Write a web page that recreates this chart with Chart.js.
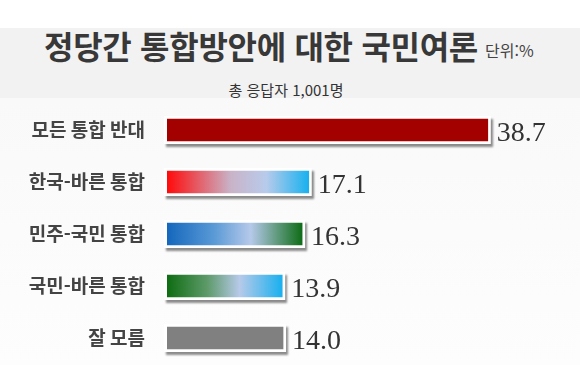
<!DOCTYPE html>
<html lang="ko">
<head>
<meta charset="utf-8">
<script src="https://cdn.jsdelivr.net/npm/chart.js@4.4.0/dist/chart.umd.min.js"></script>
<style>
  body { margin: 0; width: 580px; height: 365px; overflow: hidden; position: relative;
         background: linear-gradient(#ffffff 0px, #ffffff 28px, #f9f9f9 98px, #fdfdfd 365px);
         font-family: "Noto Sans CJK KR", sans-serif; }
  #band { position: absolute; left: 0; top: 28px; width: 580px; height: 70px; background: #f2f2f2; }
  #title { position: absolute; left: 0; width: 522px; top: 29px; text-align: center;
           font-size: 32px; line-height: 32px; font-weight: bold; color: #383838; letter-spacing: -0.3px; }
  #unit { position: absolute; left: 485px; top: 42px; font-size: 16px; line-height: 17px; color: #444; }
  #sub { position: absolute; left: 0; width: 572px; top: 82px; text-align: center;
         font-size: 15px; line-height: 15px; color: #333; }
  #myChart { position: absolute; left: 0; top: 0; }
</style>
</head>
<body>
<div id="band"></div>
<div id="title">정당간 통합방안에 대한 국민여론</div>
<div id="unit">단위:%</div>
<div id="sub">총 응답자 1,001명</div>
<canvas id="myChart" width="580" height="365"></canvas>
<script>
// categories and values (단위: %)
var categories = ['모든 통합 반대', '한국-바른 통합', '민주-국민 통합', '국민-바른 통합', '잘 모름'];
var values = [38.7, 17.1, 16.3, 13.9, 14.0];

// colour stops for each bar, left to right
var barColors = [
    [[0, '#a30000'], [1, '#a30000']],
    [[0, '#ff0a0a'], [0.45, '#c9b3c8'], [0.7, '#b8cbeb'], [1, '#19b1ef']],
    [[0, '#1467bd'], [0.35, '#5a9ad6'], [0.62, '#b6c9ea'], [1, '#0f6d17']],
    [[0, '#0e6d12'], [0.35, '#5e9a6a'], [0.63, '#b7cae9'], [1, '#19b0ef']],
    [[0, '#808080'], [1, '#808080']]
];

function barFill(ctx) {
    var chart = ctx.chart;
    if (!chart.chartArea) return null;
    var xs = chart.scales.x;
    var x0 = xs.getPixelForValue(0);
    var x1 = xs.getPixelForValue(values[ctx.dataIndex]);
    var g = chart.ctx.createLinearGradient(x0, 0, x1, 0);
    for (var s of barColors[ctx.dataIndex]) {
        g.addColorStop(s[0], s[1]);
    }
    return g;
}

// white frame with a drop shadow behind every bar
var framePlugin = {
    id: 'frames',
    beforeDatasetsDraw(chart) {
        var c = chart.ctx;
        var meta = chart.getDatasetMeta(0);
        c.save();
        c.shadowColor = 'rgba(0,0,0,0.45)';
        c.shadowOffsetX = 2;
        c.shadowOffsetY = 3;
        c.shadowBlur = 2;
        c.fillStyle = '#ffffff';
        for (var el of meta.data) {
            var p = el.getProps(['x', 'y', 'base', 'height'], true);
            c.fillRect(p.base - 3, p.y - p.height / 2 - 3, p.x - p.base + 6, p.height + 6);
        }
        c.restore();
    }
};

// value text to the right of the bars
var valuePlugin = {
    id: 'values',
    afterDatasetsDraw(chart) {
        var c = chart.ctx;
        var meta = chart.getDatasetMeta(0);
        c.save();
        c.font = '28px "Liberation Serif", serif';
        c.fillStyle = '#333333';
        c.textAlign = 'left';
        c.textBaseline = 'alphabetic';
        meta.data.forEach(function (el, i) {
            c.fillText(values[i].toFixed(1), el.x + 9, el.y + 11);
        });
        c.restore();
    }
};

var config = {
    type: 'bar',
    data: {
        labels: categories,
        datasets: [{
            data: values,
            backgroundColor: barFill,
            borderWidth: 0,
            barThickness: 22
        }]
    },
    options: {
        indexAxis: 'y',
        responsive: false,
        animation: false,
        layout: { padding: { top: 104, bottom: 1, left: 0, right: 40 } },
        plugins: { legend: { display: false }, tooltip: { enabled: false } },
        scales: {
            x: { display: false, min: 0, max: 45 },
            y: {
                grid: { display: false },
                border: { display: false },
                ticks: {
                    color: '#444444',
                    padding: 14,
                    font: { family: '"Noto Sans CJK KR", sans-serif', size: 19, weight: 'bold' }
                },
                afterFit(scale) {
                    scale.width = 167;
                    // tick padding should not eat into the bar area
                    scale.paddingTop = 0;
                    scale.paddingBottom = 0;
                }
            }
        }
    },
    plugins: [framePlugin, valuePlugin]
};

var myChart = new Chart(document.getElementById('myChart'), config);
</script>
</body>
</html>
